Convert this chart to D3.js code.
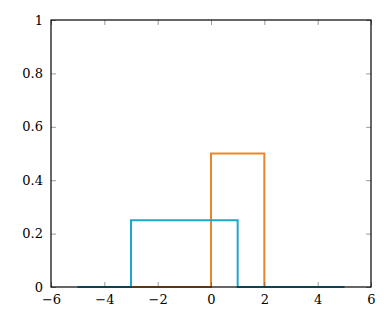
<!DOCTYPE html>
<html><head><meta charset="utf-8">
<script src="https://cdn.jsdelivr.net/npm/d3@7"></script>
<style>body{margin:0;background:#fff}svg{display:block}</style>
</head><body><svg id="c" width="389" height="312"></svg>
<script>
const uniformAX = [-5, -3, -3, 1, 1, 5];
const uniformAY = [0, 0, 0.25, 0.25, 0, 0];
const uniformBX = [-5, 0, 0, 2, 2, 5];
const uniformBY = [0, 0, 0.5, 0.5, 0, 0];
const xTicks = [-6, -4, -2, 0, 2, 4, 6];
const yTicks = [0, 0.2, 0.4, 0.6, 0.8, 1];
const colorA = "#1ea7cb";
const colorB = "#e8872a";

const svg = d3.select("#c");
const L = 51, R = 371, T = 20, B = 287;
const x = d3.scaleLinear().domain([-6, 6]).range([L, R]);
const y = d3.scaleLinear().domain([0, 1]).range([B, T]);

const line = d3.line().x(d => x(d[0])).y(d => y(d[1]));
const series = [
  {xs: uniformBX, ys: uniformBY, c: colorB},
  {xs: uniformAX, ys: uniformAY, c: colorA}
];
series.forEach(s => {
  svg.append("path").datum(s.xs.map((v, i) => [v, s.ys[i]]))
    .attr("d", line).attr("fill", "none").attr("stroke", s.c)
    .attr("stroke-width", 2).attr("stroke-linejoin", "miter");
});

const FONT = "DejaVu Serif";
const fmt = d => d === 0 ? "0" : (d < 0 ? "\u2212" + Math.abs(d) : String(d));
const gx = svg.append("g").attr("transform", `translate(0,${B})`)
  .call(d3.axisBottom(x).tickValues(xTicks).tickFormat(fmt).tickSize(-5).tickPadding(7));
const gx2 = svg.append("g").attr("transform", `translate(0,${T})`)
  .call(d3.axisTop(x).tickValues(xTicks).tickFormat("").tickSize(-5));
const gy = svg.append("g").attr("transform", `translate(${L},0)`)
  .call(d3.axisLeft(y).tickValues(yTicks).tickFormat(d => String(d)).tickSize(-5).tickPadding(8));
const gy2 = svg.append("g").attr("transform", `translate(${R},0)`)
  .call(d3.axisRight(y).tickValues(yTicks).tickFormat("").tickSize(-5));
[gx, gx2, gy, gy2].forEach(g => {
  g.attr("font-family", FONT).attr("font-size", 13);
  g.select(".domain").remove();
  g.selectAll(".tick line").attr("stroke", "#555").attr("stroke-width", 0.6);
  g.selectAll("text").attr("fill", "#000");
});
gx.selectAll("text").attr("dy", "0.8em");
svg.append("rect").attr("x", L).attr("y", T).attr("width", R - L).attr("height", B - T)
  .attr("fill", "none").attr("stroke", "#000").attr("stroke-width", 1.2);
</script></body></html>
